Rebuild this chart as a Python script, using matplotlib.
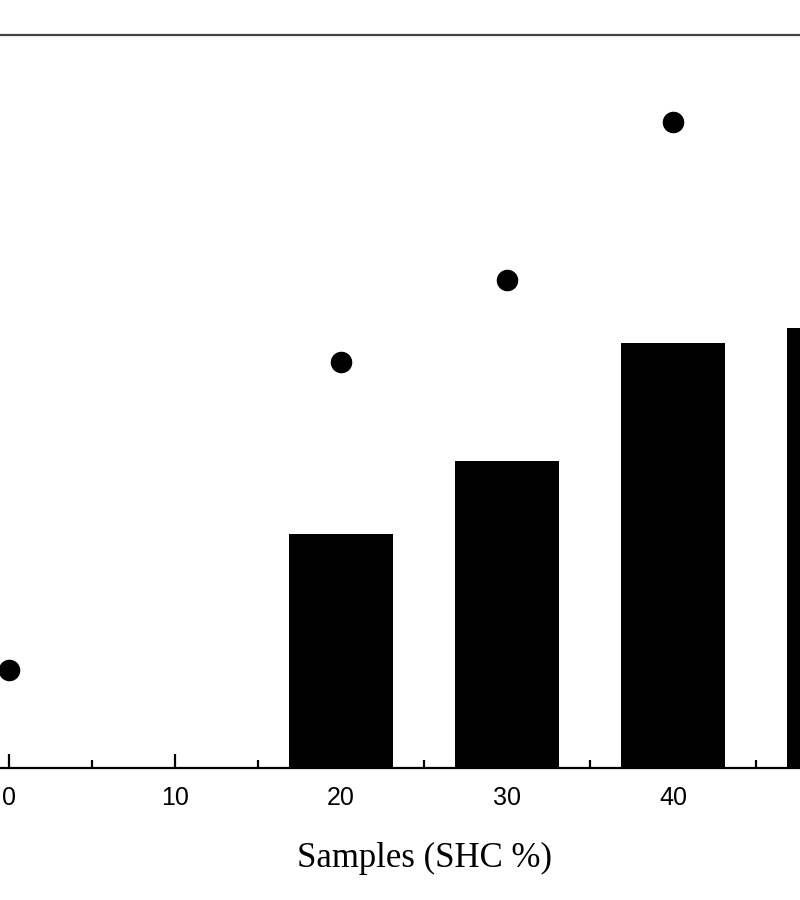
import matplotlib
matplotlib.use("Agg")
import matplotlib.pyplot as plt
from matplotlib.ticker import MultipleLocator

# SHC content of the samples (%)
bar_samples = [20, 30, 40, 50]
bar_values = [31.9, 41.9, 58.0, 60.0]

dot_samples = [0, 20, 30, 40]
dot_values = [13.4, 55.4, 66.6, 88.1]

# the 50 label falls outside the cropped picture
xtick_values = [0, 10, 20, 30, 40]
xlabel = "Samples (SHC %)"


def plot_samples():
    fig = plt.figure(figsize=(8, 9), dpi=100)
    # the original picture is a crop, so the axes run past the figure edges
    ax = fig.add_axes([-74 / 800, 132 / 900, 996 / 800, 733 / 900])

    ax.bar(bar_samples, bar_values, width=6.3, color="black", zorder=2)
    ax.plot(dot_samples, dot_values, "o", color="black", markersize=14.5,
            linestyle="none", zorder=3, clip_on=False)

    ax.set_xlim(-5, 55)
    ax.set_ylim(0, 100)
    ax.set_xticks(xtick_values)
    ax.xaxis.set_minor_locator(MultipleLocator(5))
    ax.set_yticks([])

    for side in ["top", "bottom", "left", "right"]:
        ax.spines[side].set_linewidth(1.6)
    ax.spines["top"].set_color("#444444")

    ax.tick_params(axis="x", which="major", direction="in", length=10,
                   width=1.6, pad=13, labelsize=18)
    ax.tick_params(axis="x", which="minor", direction="in", length=5.5,
                   width=1.6)
    for lab in ax.get_xticklabels():
        lab.set_family("Liberation Sans")

    ax.set_xlabel(xlabel, family="Liberation Serif", fontsize=25, labelpad=23)
    return fig


def main():
    fig = plot_samples()
    fig.savefig("out.png", dpi=100)


if __name__ == "__main__":
    main()
